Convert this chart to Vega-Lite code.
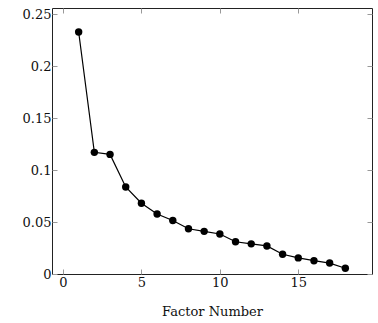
{
  "$schema": "https://vega.github.io/schema/vega-lite/v6.json",
  "autosize": "none",
  "width": 320,
  "height": 266,
  "padding": {"left": 52, "top": 8, "right": 6, "bottom": 49},
  "config": {
    "view": {"stroke": "#222", "strokeWidth": 1},
    "font": "DejaVu Serif",
    "axis": {
      "grid": false,
      "domain": false,
      "tickColor": "#999",
      "tickSize": -5,
      "tickWidth": 1,
      "labelFont": "DejaVu Serif",
      "labelFontSize": 13,
      "labelColor": "#111",
      "titleFont": "DejaVu Serif",
      "titleFontSize": 13,
      "titleFontWeight": "normal",
      "titleColor": "#111"
    }
  },
  "data": {
    "values": [
      {"factor": 1, "value": 0.2327},
      {"factor": 2, "value": 0.117},
      {"factor": 3, "value": 0.115},
      {"factor": 4, "value": 0.0837},
      {"factor": 5, "value": 0.068},
      {"factor": 6, "value": 0.0577},
      {"factor": 7, "value": 0.0515},
      {"factor": 8, "value": 0.0435},
      {"factor": 9, "value": 0.041},
      {"factor": 10, "value": 0.0385},
      {"factor": 11, "value": 0.031},
      {"factor": 12, "value": 0.029},
      {"factor": 13, "value": 0.027},
      {"factor": 14, "value": 0.019},
      {"factor": 15, "value": 0.0155},
      {"factor": 16, "value": 0.0128},
      {"factor": 17, "value": 0.0105},
      {"factor": 18, "value": 0.0055}
    ]
  },
  "layer": [
    {
      "mark": {"type": "line", "color": "black", "strokeWidth": 1.2, "point": {"filled": true, "color": "black", "size": 55, "opacity": 1}},
      "encoding": {
        "x": {
          "field": "factor",
          "type": "quantitative",
          "scale": {"domain": [-0.7, 19.7], "nice": false, "zero": false},
          "axis": {"values": [0, 5, 10, 15], "title": "Factor Number", "labelPadding": 7, "titlePadding": 16}
        },
        "y": {
          "field": "value",
          "type": "quantitative",
          "scale": {"domain": [0, 0.2558], "nice": false},
          "axis": {"values": [0, 0.05, 0.1, 0.15, 0.2, 0.25], "format": "~f", "title": null, "labelPadding": 6}
        }
      }
    },
    {
      "mark": {"type": "point", "opacity": 0},
      "encoding": {
        "x": {"field": "factor", "type": "quantitative", "axis": {"orient": "top", "values": [0, 5, 10, 15], "labels": false, "title": null}},
        "y": {"field": "value", "type": "quantitative", "axis": {"orient": "right", "values": [0, 0.05, 0.1, 0.15, 0.2, 0.25], "labels": false, "title": null}}
      }
    }
  ],
  "resolve": {"axis": {"x": "independent", "y": "independent"}}
}
